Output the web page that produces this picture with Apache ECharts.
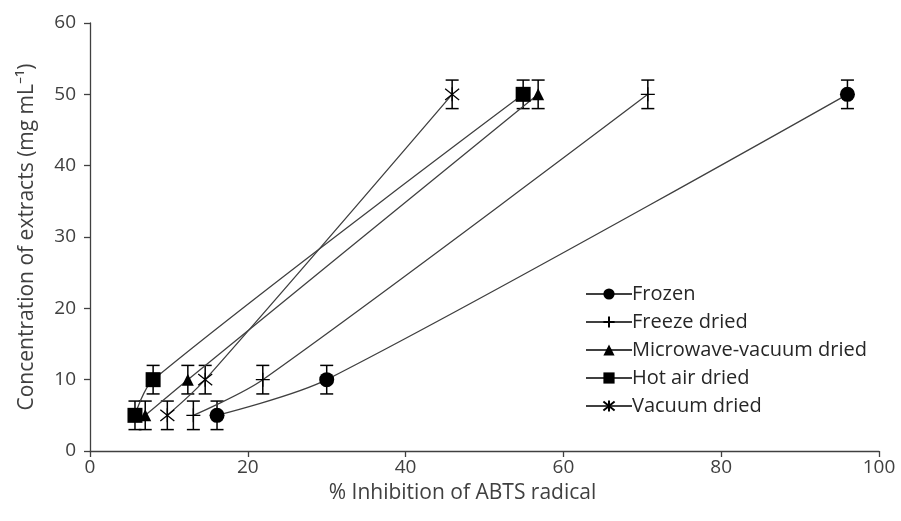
<!DOCTYPE html>
<html>
<head>
<meta charset="utf-8">
<script src="https://cdn.jsdelivr.net/npm/echarts@6/dist/echarts.min.js"></script>
<style>
  html, body { margin: 0; padding: 0; background: #fff; }
  #chart { width: 901px; height: 521px; }
</style>
</head>
<body>
<div id="chart"></div>
<script>
// data: [% inhibition, concentration]
var seriesNames = ['Frozen', 'Freeze dried', 'Microwave-vacuum dried', 'Hot air dried', 'Vacuum dried']
var frozen = [[16.1, 5], [30.0, 10], [96.0, 50]]
var freezeDried = [[13.1, 5], [21.9, 10], [70.7, 50]]
var microwaveVacuum = [[7.0, 5], [12.4, 10], [56.8, 50]]
var hotAir = [[5.7, 5], [8.0, 10], [54.9, 50]]
var vacuumDried = [[9.8, 5], [14.6, 10], [45.9, 50]]
var errY = [2, 2, 2] // +/- error on concentration
var xTicks = [0, 20, 40, 60, 80, 100]
var yTicks = [0, 10, 20, 30, 40, 50, 60]

var allData = [frozen, freezeDried, microwaveVacuum, hotAir, vacuumDried]
var symbols = [
    'circle',
    'path://M0,5 L10,5 M5,0 L5,10',
    'triangle',
    'rect',
    'path://M1,1 L9,9 M9,1 L1,9 M5,0 L5,10'
]
var symbolSizes = [15, 14, 12, 15, 14]

var myChart = echarts.init(document.getElementById('chart'))

var series = []
// error bars first, drawn under the markers
allData.forEach(function (d, i) {
    series.push({
        type: 'custom',
        name: seriesNames[i] + ' err',
        data: d.map(function (p, k) { return [p[0], p[1] - errY[k], p[1] + errY[k]] }),
        z: 1,
        silent: true,
        renderItem: function (params, api) {
            var lo = api.coord([api.value(0), api.value(1)])
            var hi = api.coord([api.value(0), api.value(2)])
            var w = 6.5
            var st = { stroke: '#000', lineWidth: 1.5 }
            return {
                type: 'group',
                children: [
                    { type: 'line', shape: { x1: lo[0], y1: lo[1], x2: hi[0], y2: hi[1] }, style: st },
                    { type: 'line', shape: { x1: lo[0] - w, y1: lo[1], x2: lo[0] + w, y2: lo[1] }, style: st },
                    { type: 'line', shape: { x1: hi[0] - w, y1: hi[1], x2: hi[0] + w, y2: hi[1] }, style: st }
                ]
            }
        }
    })
})
allData.forEach(function (d, i) {
    var stroked = (i === 1 || i === 4)
    series.push({
        type: 'line',
        name: seriesNames[i],
        data: d,
        smooth: 0.3,
        z: 3,
        symbol: symbols[i],
        symbolSize: symbolSizes[i],
        showAllSymbol: true,
        lineStyle: { color: '#404040', width: 1.3 },
        itemStyle: stroked
            ? { color: '#000', borderColor: '#000', borderWidth: 1.3 }
            : { color: '#000', borderWidth: 0 }
    })
})

var axisFont = { fontFamily: '"Open Sans", sans-serif', fontSize: 21, color: '#404040' }

var option = {
    backgroundColor: '#fff',
    animation: false,
    grid: {
        left: 90,
        right: 22,
        top: 23,
        bottom: 70
    },
    legend: {
        data: seriesNames,
        orient: 'vertical',
        left: 580,
        top: 279,
        itemWidth: 46,
        itemHeight: 14,
        itemGap: 8,
        textStyle: { fontFamily: '"Open Sans", sans-serif', fontSize: 20, color: '#262626', padding: [0, 0, 0, -5] }
    },
    xAxis: {
        type: 'value',
        min: xTicks[0],
        max: xTicks[xTicks.length - 1],
        interval: 20,
        name: '% Inhibition of ABTS radical',
        nameLocation: 'middle',
        nameGap: 32,
        nameTextStyle: Object.assign({ padding: [0, 44, 0, 0] }, axisFont),
        axisLine: { show: true, onZero: false, lineStyle: { color: '#404040', width: 1.3 } },
        axisTick: { show: true, inside: false, length: 6, lineStyle: { color: '#404040', width: 1.3 } },
        axisLabel: Object.assign({ margin: 7 }, axisFont, { fontSize: 19 }),
        splitLine: { show: false }
    },
    yAxis: {
        type: 'value',
        min: yTicks[0],
        max: yTicks[yTicks.length - 1],
        interval: 10,
        name: 'Concentration of extracts (mg mL\u207B\u00B9)',
        nameLocation: 'middle',
        nameGap: 52,
        nameTextStyle: axisFont,
        axisLine: { show: true, onZero: false, lineStyle: { color: '#404040', width: 1.3 } },
        axisTick: { show: true, inside: false, length: 6, lineStyle: { color: '#404040', width: 1.3 } },
        axisLabel: Object.assign({ margin: 14 }, axisFont, { fontSize: 19 }),
        splitLine: { show: false }
    },
    series: series
}

myChart.setOption(option)
window.onresize = myChart.resize
</script>
</body>
</html>
